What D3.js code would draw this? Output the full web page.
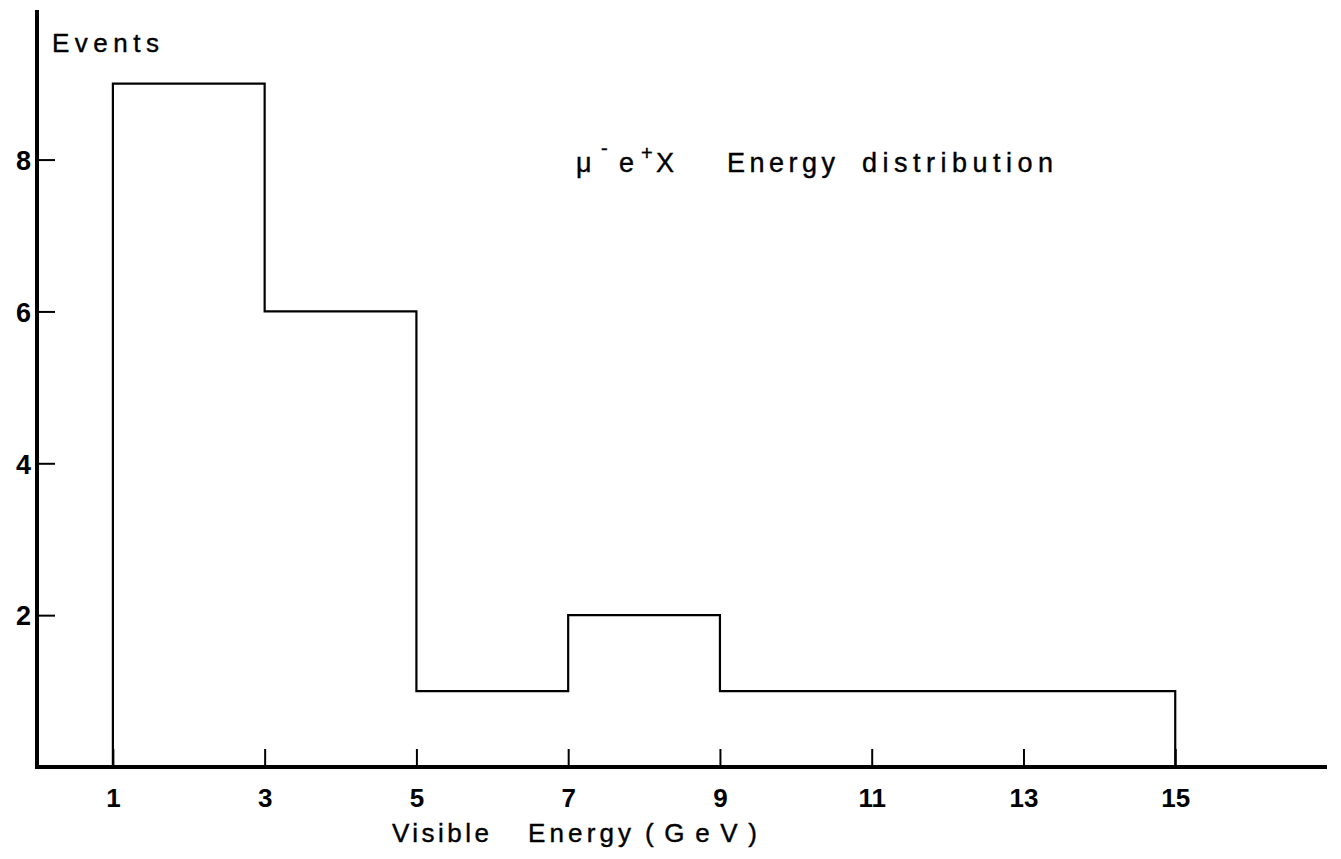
<!DOCTYPE html>
<html>
<head>
<meta charset="utf-8">
<script src="https://cdn.jsdelivr.net/npm/d3@7"></script>
<style>
  body { margin: 0; background: #fff; }
  text { font-family: "Liberation Sans", Arial, sans-serif; fill: #000; }
</style>
</head>
<body>
<svg id="chart" width="1341" height="859"></svg>
<script>
// bin edges (GeV) and counts per bin
const binEdges = [1, 3, 5, 7, 9, 15];
const counts = [9, 6, 1, 2, 1];
const xTicks = [1, 3, 5, 7, 9, 11, 13, 15];
const yTicks = [2, 4, 6, 8];

const svg = d3.select("#chart");
const plotLeft = 37, plotBottom = 767, plotRight = 1327, plotTop = 10;

const x = d3.scaleLinear().domain([0, 17]).range([plotLeft, plotRight]);
const y = d3.scaleLinear().domain([0, 9.97]).range([plotBottom, plotTop]);

// histogram as a step outline
const pts = [[binEdges[0], 0]];
counts.forEach((c, i) => {
  pts.push([binEdges[i], c]);
  pts.push([binEdges[i + 1], c]);
});
pts.push([binEdges[binEdges.length - 1], 0]);

svg.append("path")
  .attr("d", d3.line().x(d => x(d[0])).y(d => y(d[1]))(pts))
  .attr("fill", "none")
  .attr("stroke", "#000")
  .attr("stroke-width", 2.2);

// x axis: ticks point inward (up)
const xAxis = d3.axisBottom(x).tickValues(xTicks).tickSize(-18).tickPadding(0).tickFormat(d3.format("d"));
const gx = svg.append("g").attr("transform", `translate(0,${plotBottom})`).call(xAxis);
gx.select(".domain").remove();
gx.selectAll(".tick line").attr("stroke", "#000").attr("stroke-width", 2);
gx.selectAll(".tick text")
  .attr("y", 40)
  .attr("dy", 0)
  .style("font-size", "26px")
  .style("font-weight", "bold");

// y axis: ticks point inward (right)
const yAxis = d3.axisLeft(y).tickValues(yTicks).tickSize(-18).tickPadding(0).tickFormat(d3.format("d"));
const gy = svg.append("g").attr("transform", `translate(${plotLeft},0)`).call(yAxis);
gy.select(".domain").remove();
gy.selectAll(".tick line").attr("stroke", "#000").attr("stroke-width", 2);
gy.selectAll(".tick text")
  .attr("x", -6)
  .attr("dy", "0.36em")
  .style("font-size", "27px")
  .style("font-weight", "bold");

// thick axis lines
svg.append("line")
  .attr("x1", plotLeft).attr("x2", plotLeft).attr("y1", plotTop).attr("y2", plotBottom + 2)
  .attr("stroke", "#000").attr("stroke-width", 4);
svg.append("line")
  .attr("x1", plotLeft - 2).attr("x2", plotRight).attr("y1", plotBottom).attr("y2", plotBottom)
  .attr("stroke", "#000").attr("stroke-width", 4);

// labels
function label(txt, px, py, size, len) {
  const t = svg.append("text")
    .attr("x", px).attr("y", py)
    .style("font-size", size + "px")
    .style("stroke", "#000").style("stroke-width", 0.4)
    .text(txt);
  if (len) t.attr("textLength", len).attr("lengthAdjust", "spacing");
  return t;
}

label("Events", 52, 52, 26, 107);

// x axis title
label("Visible", 392, 842, 26, 97);
label("Energy", 528, 842, 26, 103);
label("(GeV)", 645, 842, 26, 112);

// in-plot title
label("μ", 576, 172, 27);
label("-", 601, 155, 20);
label("e", 619, 172, 27);
label("+", 641, 160, 20);
label("X", 656, 172, 27);
label("Energy", 727, 172, 27, 108);
label("distribution", 862, 172, 27, 191);
</script>
</body>
</html>
